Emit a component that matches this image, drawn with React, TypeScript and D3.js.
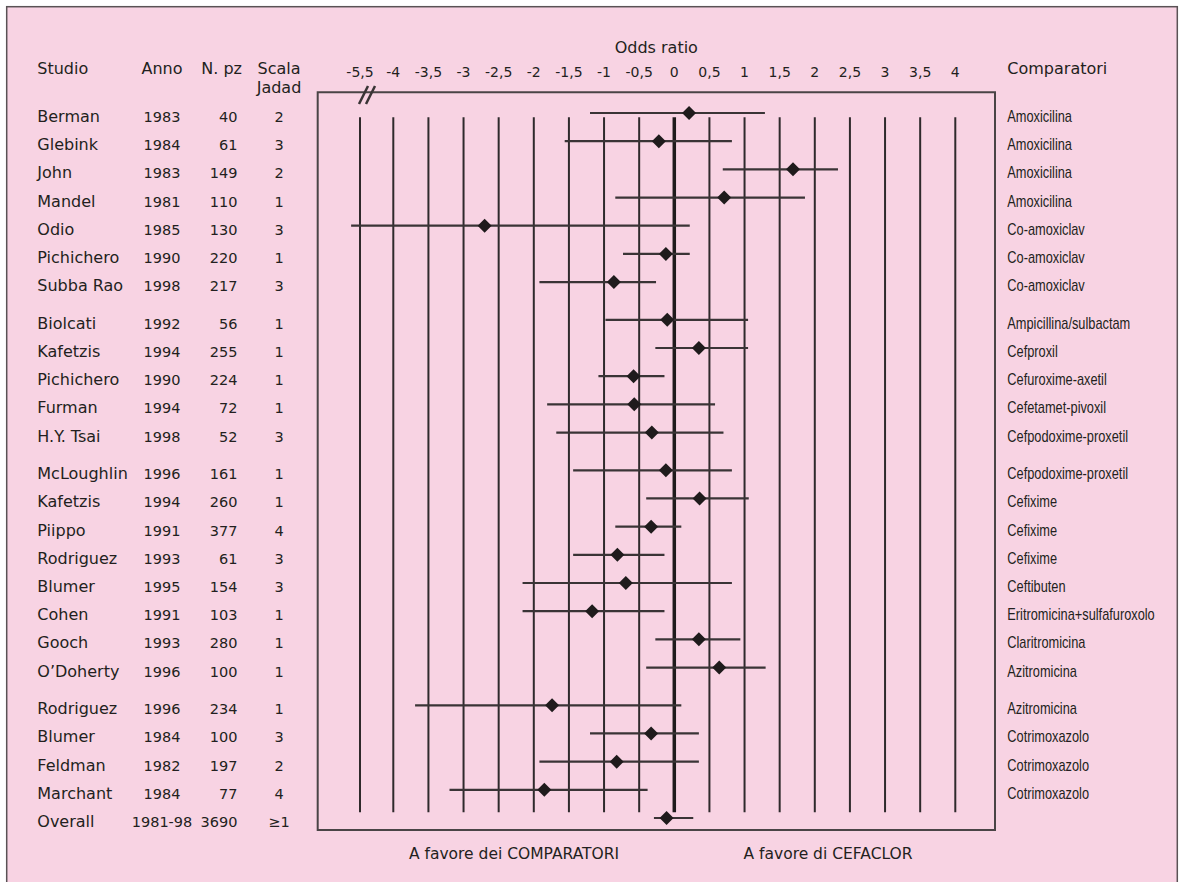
import React from "react";
import * as d3 from "d3";

// rows of the forest plot
const studies = ["Berman", "Glebink", "John", "Mandel", "Odio", "Pichichero", "Subba Rao", "Biolcati", "Kafetzis", "Pichichero", "Furman", "H.Y. Tsai", "McLoughlin", "Kafetzis", "Piippo", "Rodriguez", "Blumer", "Cohen", "Gooch", "O\u2019Doherty", "Rodriguez", "Blumer", "Feldman", "Marchant", "Overall"];
const years = ["1983", "1984", "1983", "1981", "1985", "1990", "1998", "1992", "1994", "1990", "1994", "1998", "1996", "1994", "1991", "1993", "1995", "1991", "1993", "1996", "1996", "1984", "1982", "1984", "1981-98"];
const patients = [40, 61, 149, 110, 130, 220, 217, 56, 255, 224, 72, 52, 161, 260, 377, 61, 154, 103, 280, 100, 234, 100, 197, 77, 3690];
const jadad = ["2", "3", "2", "1", "3", "1", "3", "1", "1", "1", "1", "3", "1", "1", "4", "3", "3", "1", "1", "1", "1", "3", "2", "4", "\u22651"];
const comparators = ["Amoxicilina", "Amoxicilina", "Amoxicilina", "Amoxicilina", "Co-amoxiclav", "Co-amoxiclav", "Co-amoxiclav", "Ampicillina/sulbactam", "Cefproxil", "Cefuroxime-axetil", "Cefetamet-pivoxil", "Cefpodoxime-proxetil", "Cefpodoxime-proxetil", "Cefixime", "Cefixime", "Cefixime", "Ceftibuten", "Eritromicina+sulfafuroxolo", "Claritromicina", "Azitromicina", "Azitromicina", "Cotrimoxazolo", "Cotrimoxazolo", "Cotrimoxazolo", ""];
// block each row belongs to (blocks are separated by a small gap)
const blocks = [0, 0, 0, 0, 0, 0, 0, 1, 1, 1, 1, 1, 2, 2, 2, 2, 2, 2, 2, 2, 3, 3, 3, 3, 3];

const oddsRatio = [0.21, -0.22, 1.69, 0.71, -2.7, -0.12, -0.86, -0.1, 0.35, -0.58, -0.57, -0.32, -0.12, 0.36, -0.33, -0.81, -0.69, -1.17, 0.35, 0.64, -1.74, -0.33, -0.82, -1.85, -0.11];
const ciLow = [-1.2, -1.56, 0.69, -0.84, -5.9, -0.73, -1.92, -0.98, -0.27, -1.08, -1.81, -1.68, -1.44, -0.4, -0.84, -1.44, -2.16, -2.16, -0.27, -0.4, -3.69, -1.2, -1.92, -3.2, -0.29];
const ciHigh = [1.29, 0.82, 2.33, 1.86, 0.22, 0.22, -0.26, 1.05, 1.05, -0.14, 0.58, 0.7, 0.82, 1.06, 0.1, -0.14, 0.82, -0.14, 0.94, 1.3, 0.1, 0.35, 0.35, -0.38, 0.27];

const ticks = [-5.5, -4, -3.5, -3, -2.5, -2, -1.5, -1, -0.5, 0, 0.5, 1, 1.5, 2, 2.5, 3, 3.5, 4];

const W = 1180;
const H = 882;
const BG = "#f8d3e3";
const INK = "#231f20";
const SANS = "'DejaVu Sans', sans-serif";
const NARROW = "'Liberation Sans', Arial, sans-serif";

// axis is broken between -5,5 and -4
const x = d3.scaleLinear().domain([-5.5, -4, 4]).range([360, 393.3, 955.3]);

const GAP = 0.34;
const slots = studies.map((_, i) => i + blocks[i] * GAP);
const y = d3.scaleLinear().domain([0, slots[slots.length - 1]]).range([113, 818]);

const fmt = (v: number) => String(v).replace(".", ",");

export default function App() {
  const box = { left: 317.7, top: 92.3, right: 995, bottom: 830 };
  const gridTop = 117.3;
  const gridBottom = 812.3;
  const d = 7;
  return (
    <svg width={W} height={H} style={{ position: "absolute", left: 0, top: 0 }}>
      <rect x={0} y={0} width={W} height={H} fill="#fff" />
      <rect x={6.7} y={6.7} width={1170.6} height={H} fill={BG} stroke="#5a5255" strokeWidth={1.5} />

      {/* header */}
      <g fill={INK} fontFamily={SANS} fontSize={16}>
        <text x={37.3} y={74}>Studio</text>
        <text x={162} y={74} textAnchor="middle">Anno</text>
        <text x={242} y={74} textAnchor="end">N. pz</text>
        <text x={279} y={74} textAnchor="middle">Scala</text>
        <text x={279} y={92.5} textAnchor="middle">Jadad</text>
        <text x={x(0) - 18} y={52.7} textAnchor="middle">Odds ratio</text>
        <text x={1007.3} y={74}>Comparatori</text>
      </g>
      <g fill={INK} fontFamily={SANS} fontSize={14}>
        {ticks.map((t) => (
          <text key={t} x={x(t)} y={77} textAnchor="middle">{fmt(t)}</text>
        ))}
      </g>

      {/* plot box */}
      <path
        d={`M${box.left},${box.bottom}V${box.top}H${box.right}V${box.bottom}Z`}
        fill="none" stroke="#4a4446" strokeWidth={2}
      />
      <g stroke="#3a3436" strokeWidth={2.5}>
        <line x1={x(-5.5) - 1} y1={104} x2={x(-5.5) + 8} y2={86} />
        <line x1={x(-5.5) + 6} y1={104} x2={x(-5.5) + 15} y2={86} />
      </g>

      {/* grid */}
      <g>
        {ticks.map((t) => (
          <line key={t} x1={x(t)} x2={x(t)} y1={gridTop} y2={gridBottom}
            stroke={t === 0 ? "#1f1b1c" : "#2f2a2c"} strokeWidth={t === 0 ? 3.5 : 2} />
        ))}
      </g>

      {/* confidence intervals + estimates */}
      <g>
        {studies.map((s, i) => {
          const cy = y(slots[i]);
          const cx = x(oddsRatio[i]);
          return (
            <g key={i}>
              <line x1={x(ciLow[i])} x2={x(ciHigh[i])} y1={cy} y2={cy} stroke="#3a3436" strokeWidth={2.2} />
              <path d={`M${cx},${cy - d}L${cx + d},${cy}L${cx},${cy + d}L${cx - d},${cy}Z`} fill="#1f1b1c" />
            </g>
          );
        })}
      </g>

      {/* table columns */}
      <g fill={INK} fontFamily={SANS} fontSize={16}>
        {studies.map((s, i) => (
          <text key={i} x={37.3} y={y(slots[i]) + 9}>{s}</text>
        ))}
      </g>
      <g fill={INK} fontFamily={SANS} fontSize={14.5}>
        {years.map((v, i) => (
          <text key={"y" + i} x={162} y={y(slots[i]) + 9} textAnchor="middle">{v}</text>
        ))}
        {patients.map((v, i) => (
          <text key={"n" + i} x={237.5} y={y(slots[i]) + 9} textAnchor="end">{v}</text>
        ))}
        {jadad.map((v, i) => (
          <text key={"j" + i} x={279} y={y(slots[i]) + 9} textAnchor="middle">{v}</text>
        ))}
      </g>
      <g fill={INK} fontFamily={NARROW} fontSize={16} transform="translate(1007.3,0) scale(0.8,1)">
        {comparators.map((v, i) => (
          <text key={i} x={0} y={y(slots[i]) + 9}>{v}</text>
        ))}
      </g>

      {/* bottom captions */}
      <g fill={INK} fontFamily={SANS} fontSize={15.5} textAnchor="middle">
        <text x={514} y={859}>A favore dei COMPARATORI</text>
        <text x={828} y={859}>A favore di CEFACLOR</text>
      </g>
    </svg>
  );
}
